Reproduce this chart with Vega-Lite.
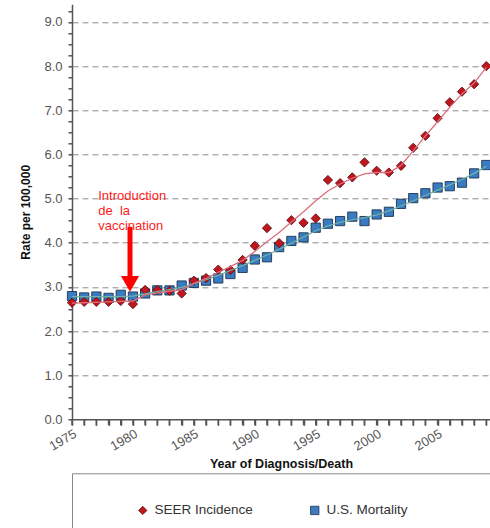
{
  "$schema": "https://vega.github.io/schema/vega-lite/v6.json",
  "width": 418,
  "height": 415,
  "autosize": {"type": "none"},
  "padding": {"left": 72, "top": 4.3, "right": 0, "bottom": 108.7},
  "background": "white",
  "config": {
    "font": "Liberation Sans",
    "view": {"stroke": null},
    "axis": {
      "labelFont": "Liberation Sans",
      "titleFont": "Liberation Sans",
      "labelColor": "#555555",
      "labelFontSize": 13,
      "titleColor": "#111111",
      "titleFontWeight": "bold",
      "domainColor": "#555555",
      "domainWidth": 1.5,
      "tickColor": "#555555",
      "tickWidth": 1.5,
      "gridColor": "#8a8a8a",
      "gridDash": [6, 4],
      "gridWidth": 1
    }
  },
  "datasets": {
    "rates": [
      {"year": 1975, "series": "U.S. Mortality", "rate": 2.79, "fit": 2.78},
      {"year": 1976, "series": "U.S. Mortality", "rate": 2.76, "fit": 2.78},
      {"year": 1977, "series": "U.S. Mortality", "rate": 2.78, "fit": 2.78},
      {"year": 1978, "series": "U.S. Mortality", "rate": 2.75, "fit": 2.78},
      {"year": 1979, "series": "U.S. Mortality", "rate": 2.82, "fit": 2.78},
      {"year": 1980, "series": "U.S. Mortality", "rate": 2.78, "fit": 2.79},
      {"year": 1981, "series": "U.S. Mortality", "rate": 2.85, "fit": 2.84},
      {"year": 1982, "series": "U.S. Mortality", "rate": 2.92, "fit": 2.89},
      {"year": 1983, "series": "U.S. Mortality", "rate": 2.92, "fit": 2.94},
      {"year": 1984, "series": "U.S. Mortality", "rate": 3.03, "fit": 2.99},
      {"year": 1985, "series": "U.S. Mortality", "rate": 3.09, "fit": 3.07},
      {"year": 1986, "series": "U.S. Mortality", "rate": 3.14, "fit": 3.16},
      {"year": 1987, "series": "U.S. Mortality", "rate": 3.19, "fit": 3.26},
      {"year": 1988, "series": "U.S. Mortality", "rate": 3.29, "fit": 3.37},
      {"year": 1989, "series": "U.S. Mortality", "rate": 3.43, "fit": 3.48},
      {"year": 1990, "series": "U.S. Mortality", "rate": 3.62, "fit": 3.60},
      {"year": 1991, "series": "U.S. Mortality", "rate": 3.67, "fit": 3.72},
      {"year": 1992, "series": "U.S. Mortality", "rate": 3.90, "fit": 3.85},
      {"year": 1993, "series": "U.S. Mortality", "rate": 4.04, "fit": 3.99},
      {"year": 1994, "series": "U.S. Mortality", "rate": 4.12, "fit": 4.13},
      {"year": 1995, "series": "U.S. Mortality", "rate": 4.34, "fit": 4.27},
      {"year": 1996, "series": "U.S. Mortality", "rate": 4.43, "fit": 4.38},
      {"year": 1997, "series": "U.S. Mortality", "rate": 4.49, "fit": 4.46},
      {"year": 1998, "series": "U.S. Mortality", "rate": 4.59, "fit": 4.52},
      {"year": 1999, "series": "U.S. Mortality", "rate": 4.49, "fit": 4.57},
      {"year": 2000, "series": "U.S. Mortality", "rate": 4.64, "fit": 4.63},
      {"year": 2001, "series": "U.S. Mortality", "rate": 4.70, "fit": 4.72},
      {"year": 2002, "series": "U.S. Mortality", "rate": 4.88, "fit": 4.83},
      {"year": 2003, "series": "U.S. Mortality", "rate": 5.01, "fit": 4.95},
      {"year": 2004, "series": "U.S. Mortality", "rate": 5.12, "fit": 5.07},
      {"year": 2005, "series": "U.S. Mortality", "rate": 5.25, "fit": 5.19},
      {"year": 2006, "series": "U.S. Mortality", "rate": 5.28, "fit": 5.31},
      {"year": 2007, "series": "U.S. Mortality", "rate": 5.36, "fit": 5.43},
      {"year": 2008, "series": "U.S. Mortality", "rate": 5.57, "fit": 5.57},
      {"year": 2009, "series": "U.S. Mortality", "rate": 5.76, "fit": 5.73},
      {"year": 1975, "series": "SEER Incidence", "rate": 2.64, "fit": 2.63},
      {"year": 1976, "series": "SEER Incidence", "rate": 2.66, "fit": 2.64},
      {"year": 1977, "series": "SEER Incidence", "rate": 2.66, "fit": 2.65},
      {"year": 1978, "series": "SEER Incidence", "rate": 2.66, "fit": 2.66},
      {"year": 1979, "series": "SEER Incidence", "rate": 2.68, "fit": 2.67},
      {"year": 1980, "series": "SEER Incidence", "rate": 2.61, "fit": 2.68},
      {"year": 1981, "series": "SEER Incidence", "rate": 2.93, "fit": 2.82},
      {"year": 1982, "series": "SEER Incidence", "rate": 2.93, "fit": 2.86},
      {"year": 1983, "series": "SEER Incidence", "rate": 2.91, "fit": 2.90},
      {"year": 1984, "series": "SEER Incidence", "rate": 2.85, "fit": 2.94},
      {"year": 1985, "series": "SEER Incidence", "rate": 3.14, "fit": 3.08},
      {"year": 1986, "series": "SEER Incidence", "rate": 3.20, "fit": 3.19},
      {"year": 1987, "series": "SEER Incidence", "rate": 3.39, "fit": 3.33},
      {"year": 1988, "series": "SEER Incidence", "rate": 3.38, "fit": 3.46},
      {"year": 1989, "series": "SEER Incidence", "rate": 3.61, "fit": 3.60},
      {"year": 1990, "series": "SEER Incidence", "rate": 3.93, "fit": 3.80},
      {"year": 1991, "series": "SEER Incidence", "rate": 4.33, "fit": 4.02},
      {"year": 1992, "series": "SEER Incidence", "rate": 3.99, "fit": 4.23},
      {"year": 1993, "series": "SEER Incidence", "rate": 4.51, "fit": 4.47},
      {"year": 1994, "series": "SEER Incidence", "rate": 4.45, "fit": 4.70},
      {"year": 1995, "series": "SEER Incidence", "rate": 4.55, "fit": 4.95},
      {"year": 1996, "series": "SEER Incidence", "rate": 5.42, "fit": 5.17},
      {"year": 1997, "series": "SEER Incidence", "rate": 5.35, "fit": 5.33},
      {"year": 1998, "series": "SEER Incidence", "rate": 5.48, "fit": 5.46},
      {"year": 1999, "series": "SEER Incidence", "rate": 5.82, "fit": 5.56},
      {"year": 2000, "series": "SEER Incidence", "rate": 5.63, "fit": 5.59},
      {"year": 2001, "series": "SEER Incidence", "rate": 5.59, "fit": 5.59},
      {"year": 2002, "series": "SEER Incidence", "rate": 5.74, "fit": 5.75},
      {"year": 2003, "series": "SEER Incidence", "rate": 6.15, "fit": 6.08},
      {"year": 2004, "series": "SEER Incidence", "rate": 6.42, "fit": 6.42},
      {"year": 2005, "series": "SEER Incidence", "rate": 6.82, "fit": 6.74},
      {"year": 2006, "series": "SEER Incidence", "rate": 7.18, "fit": 7.07},
      {"year": 2007, "series": "SEER Incidence", "rate": 7.42, "fit": 7.37},
      {"year": 2008, "series": "SEER Incidence", "rate": 7.59, "fit": 7.62},
      {"year": 2009, "series": "SEER Incidence", "rate": 8.00, "fit": 7.97}
    ],
    "note": [
      {"year": 1977.15, "rate": 5.2, "label": ["Introduction", "de\u00a0 la", "vaccination"]}
    ],
    "arrow": [
      {"year": 1979.76, "rate": 4.36, "bottom": 3.22, "tip": 3.07}
    ]
  },
  "encoding": {
    "x": {
      "field": "year", "type": "quantitative",
      "scale": {"domain": [1975, 2009.3], "nice": false, "zero": false},
      "axis": {
        "title": "Year of Diagnosis/Death",
        "titleFontSize": 12.5,
        "titlePadding": 4,
        "values": [1975,1976,1977,1978,1979,1980,1981,1982,1983,1984,1985,1986,1987,1988,1989,1990,1991,1992,1993,1994,1995,1996,1997,1998,1999,2000,2001,2002,2003,2004,2005,2006,2007,2008,2009],
        "labelExpr": "datum.value % 5 === 0 ? '' + datum.value : ''",
        "labelAngle": -30,
        "labelPadding": 2,
        "tickSize": 6,
        "grid": false,
        "labelOverlap": false
      }
    },
    "y": {
      "field": "rate", "type": "quantitative",
      "scale": {"domain": [0, 9.4], "nice": false, "zero": true},
      "axis": {
        "title": "Rate per 100,000",
        "titleFontSize": 12,
        "titlePadding": 11,
        "values": [0,0.25,0.5,0.75,1,1.25,1.5,1.75,2,2.25,2.5,2.75,3,3.25,3.5,3.75,4,4.25,4.5,4.75,5,5.25,5.5,5.75,6,6.25,6.5,6.75,7,7.25,7.5,7.75,8,8.25,8.5,8.75,9,9.25],
        "labelExpr": "datum.value % 1 === 0 ? format(datum.value, '.1f') : ''",
        "tickSize": 4,
        "labelPadding": 6,
        "grid": true,
        "gridOpacity": {"condition": {"test": "datum.value % 1 === 0 && datum.value > 0", "value": 1}, "value": 0},
        "labelOverlap": false
      }
    }
  },
  "layer": [
    {
      "data": {"name": "rates"},
      "transform": [{"filter": "datum.series === 'U.S. Mortality'"}],
      "mark": {"type": "rule", "color": "#555555", "strokeWidth": 1.5, "y2Offset": 6},
      "encoding": {
        "y": {"datum": 0, "type": "quantitative"},
        "y2": {"datum": 0}
      }
    },
    {
      "data": {"name": "rates"},
      "mark": {"type": "point", "filled": true, "opacity": 1, "strokeWidth": 0.9, "size": 85},
      "encoding": {
        "color": {
          "field": "series", "type": "nominal",
          "scale": {"domain": ["SEER Incidence", "U.S. Mortality"], "range": ["#c2161f", "#3a7cc1"]},
          "legend": {
            "orient": "none",
            "legendX": 0,
            "legendY": 469,
            "direction": "horizontal",
            "title": "\u00a0",
            "titleOrient": "right",
            "titlePadding": 80,
            "padding": 30,
            "symbolOffset": 34,
            "strokeColor": "#888888",
            "fillColor": "white",
            "columnPadding": 21,
            "labelFontSize": 13.5,
            "labelFont": "Liberation Sans",
            "labelColor": "#333333",
            "labelOffset": 5,
            "symbolSize": 70,
            "symbolStrokeColor": "#333333",
            "symbolStrokeWidth": 0.8
          }
        },
        "shape": {
          "field": "series", "type": "nominal",
          "scale": {"domain": ["SEER Incidence", "U.S. Mortality"], "range": ["diamond", "square"]}
        },
        "stroke": {
          "field": "series", "type": "nominal",
          "scale": {"domain": ["SEER Incidence", "U.S. Mortality"], "range": ["#5a1014", "#1c3350"]},
          "legend": null
        }
      }
    },
    {
      "data": {"name": "rates"},
      "transform": [{"filter": "datum.series === 'U.S. Mortality'"}],
      "mark": {"type": "line", "color": "#6fb2a8", "strokeWidth": 1.2},
      "encoding": {
        "y": {"field": "fit", "type": "quantitative"}
      }
    },
    {
      "data": {"name": "rates"},
      "transform": [{"filter": "datum.series === 'SEER Incidence'"}],
      "mark": {"type": "line", "color": "#d9707c", "strokeWidth": 1.3},
      "encoding": {
        "y": {"field": "fit", "type": "quantitative"}
      }
    },
    {
      "data": {"name": "arrow"},
      "mark": {"type": "rule", "color": "#ff0000", "strokeWidth": 5},
      "encoding": {
        "y2": {"field": "bottom"}
      }
    },
    {
      "data": {"name": "arrow"},
      "mark": {"type": "point", "shape": "triangle-down", "filled": true, "color": "#ff0000", "size": 330, "opacity": 1, "strokeWidth": 0},
      "encoding": {
        "y": {"field": "tip", "type": "quantitative"}
      }
    },
    {
      "data": {"name": "note"},
      "mark": {"type": "text", "align": "left", "baseline": "top", "color": "#ff1a1a", "fontSize": 13, "lineHeight": 15, "font": "Liberation Sans"},
      "encoding": {
        "text": {"field": "label"}
      }
    }
  ]
}
